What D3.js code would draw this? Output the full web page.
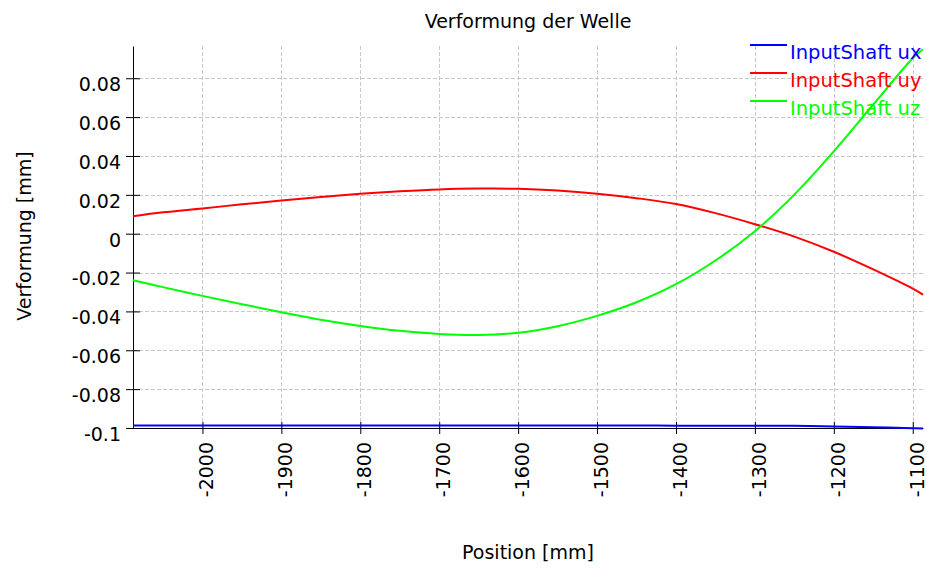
<!DOCTYPE html>
<html>
<head>
<meta charset="utf-8">
<script src="https://cdn.jsdelivr.net/npm/d3@7"></script>
<style>
  body { margin: 0; background: #fff; }
  svg { display: block; font-family: "DejaVu Sans", Verdana, sans-serif; }
</style>
</head>
<body>
<div class="chart"></div>
<script>
// Shaft positions [mm] and deformation values [mm]
const positions = [-2088, -2050, -2000, -1950, -1900, -1850, -1800, -1750, -1700, -1650, -1600,
                   -1550, -1500, -1450, -1400, -1350, -1300, -1250, -1200, -1150, -1100, -1087];
const ux = [-0.0987, -0.0987, -0.0987, -0.0987, -0.0987, -0.0987, -0.0987, -0.0987, -0.0987, -0.0987, -0.0987,
            -0.0987, -0.0987, -0.0987, -0.0988, -0.0988, -0.0988, -0.0989, -0.0992, -0.0996, -0.1001, -0.1003];
const uy = [0.0090, 0.0110, 0.0130, 0.0151, 0.0171, 0.0189, 0.0205, 0.0218, 0.0228, 0.0232, 0.0231,
            0.0222, 0.0206, 0.0183, 0.0153, 0.0106, 0.0049, -0.0015, -0.0093, -0.0184, -0.0283, -0.0314];
const uz = [-0.0240, -0.0275, -0.0320, -0.0363, -0.0404, -0.0443, -0.0475, -0.0500, -0.0516, -0.0521, -0.0510,
            -0.0476, -0.0423, -0.0353, -0.0260, -0.0138, 0.0013, 0.0201, 0.0424, 0.0665, 0.0903, 0.0949];

const seriesNames = ["InputShaft ux", "InputShaft uy", "InputShaft uz"];
const seriesColors = ["#0000ff", "#ff0000", "#00ff00"];
const seriesValues = [ux, uy, uz];

const xTicks = [-2000, -1900, -1800, -1700, -1600, -1500, -1400, -1300, -1200, -1100];
const yTicks = [-0.1, -0.08, -0.06, -0.04, -0.02, 0, 0.02, 0.04, 0.06, 0.08];

const W = 927, H = 569;
const plot = {left: 133, right: 923, top: 46, bottom: 428};
const FONT = '"DejaVu Sans", Verdana, sans-serif';

const svg = d3.select(".chart").append("svg")
    .attr("width", W)
    .attr("height", H);

const x = d3.scaleLinear().domain([-2088, -1087]).range([plot.left, plot.right]);
const y = d3.scaleLinear().domain([-0.1, 0.0966]).range([plot.bottom, plot.top]);

// grid
const grid = svg.append("g")
    .attr("stroke", "#c8c8c8")
    .attr("stroke-dasharray", "4,2")
    .attr("shape-rendering", "crispEdges");
grid.selectAll(".gx").data(xTicks).join("line")
    .attr("x1", d => Math.round(x(d)) + 0.5).attr("x2", d => Math.round(x(d)) + 0.5)
    .attr("y1", plot.top).attr("y2", plot.bottom);
grid.selectAll(".gy").data(yTicks.filter(d => d > -0.1)).join("line")
    .attr("y1", d => Math.round(y(d)) + 0.5).attr("y2", d => Math.round(y(d)) + 0.5)
    .attr("x1", plot.left).attr("x2", plot.right);

// axes
const fmtY = d => d === 0 ? "0" : String(+d.toFixed(2));

const yAxis = svg.append("g")
    .attr("transform", "translate(" + plot.left + ",0)")
    .call(d3.axisLeft(y).tickValues(yTicks).tickFormat(fmtY).tickSizeOuter(0));
yAxis.attr("font-family", FONT).attr("font-size", 19);
yAxis.selectAll(".tick line").attr("x1", 7).attr("x2", -7);
yAxis.selectAll("text").attr("x", -12).attr("dy", "0.65em");
yAxis.select(".domain").attr("stroke", "#000");

const xAxis = svg.append("g")
    .attr("transform", "translate(0," + plot.bottom + ")")
    .call(d3.axisBottom(x).tickValues(xTicks).tickFormat(d => String(d)).tickSizeOuter(0));
xAxis.attr("font-family", FONT).attr("font-size", 19);
xAxis.selectAll(".tick line").attr("y1", -6).attr("y2", 6);
xAxis.selectAll("text")
    .attr("text-anchor", "end")
    .attr("transform", "rotate(-90)")
    .attr("x", -14)
    .attr("y", 0)
    .attr("dy", "0.55em");

// lines
const line = d3.line().curve(d3.curveCatmullRom.alpha(0.5));
seriesValues.forEach((vals, i) => {
    svg.append("path")
        .attr("fill", "none")
        .attr("stroke", seriesColors[i])
        .attr("stroke-width", 2)
        .attr("d", line(positions.map((p, j) => [x(p), y(vals[j])])));
});

// legend
const legend = svg.append("g");
seriesNames.forEach((name, i) => {
    const ly = 45 + i * 28;
    legend.append("line")
        .attr("x1", 750).attr("x2", 787)
        .attr("y1", ly).attr("y2", ly)
        .attr("stroke", seriesColors[i]).attr("stroke-width", 2);
    legend.append("text")
        .attr("x", 790).attr("y", ly + 13.5)
        .attr("font-size", 19.5)
        .attr("fill", seriesColors[i])
        .text(name);
});

// titles
svg.append("text")
    .attr("x", 528).attr("y", 28)
    .attr("text-anchor", "middle")
    .attr("font-size", 19)
    .text("Verformung der Welle");

svg.append("text")
    .attr("x", 528).attr("y", 559)
    .attr("text-anchor", "middle")
    .attr("font-size", 19)
    .text("Position [mm]");

svg.append("text")
    .attr("transform", "translate(31,236) rotate(-90)")
    .attr("text-anchor", "middle")
    .attr("font-size", 19)
    .text("Verformung [mm]");
</script>
</body>
</html>
